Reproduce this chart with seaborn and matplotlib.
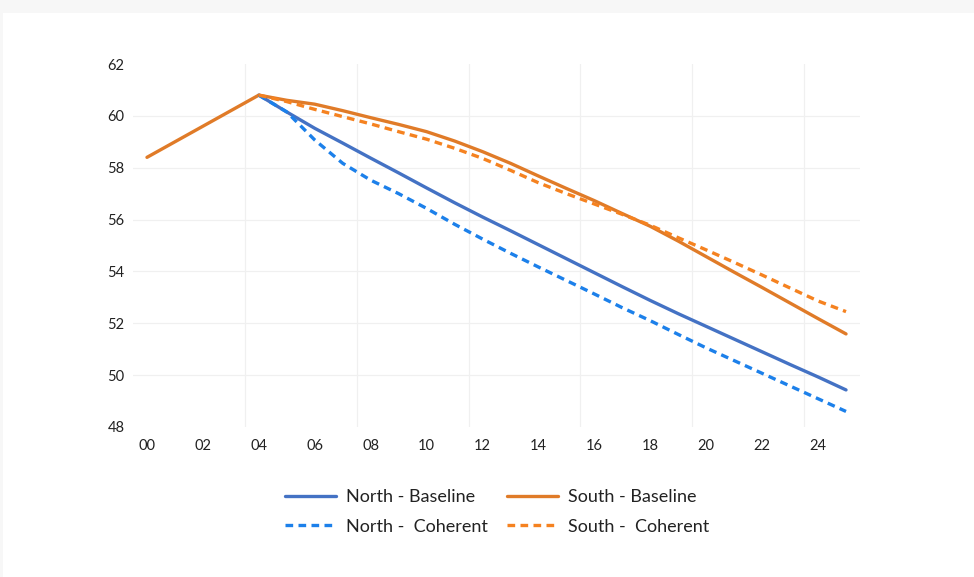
import matplotlib
matplotlib.use("Agg")
import matplotlib.pyplot as plt
from matplotlib.patches import Rectangle
from matplotlib.lines import Line2D
import seaborn as sns
import pandas as pd
import numpy as np

# ---- data ----
years_south_base = list(range(2000, 2026))
south_baseline = [58.4, 59.0, 59.6, 60.2, 60.8, 60.6, 60.45, 60.2, 59.93, 59.67,
                  59.39, 59.03, 58.62, 58.17, 57.68, 57.2, 56.73, 56.23, 55.74, 55.17,
                  54.57, 53.97, 53.38, 52.78, 52.18, 51.59]
years_proj = list(range(2004, 2026))
north_baseline = [60.8, 60.15, 59.52, 58.95, 58.37, 57.8, 57.22, 56.65, 56.1, 55.57,
                  55.03, 54.49, 53.95, 53.41, 52.88, 52.37, 51.88, 51.39, 50.9, 50.41,
                  49.93, 49.43]
north_coherent = [60.8, 60.15, 59.07, 58.17, 57.52, 57.0, 56.43, 55.82, 55.25, 54.7,
                  54.17, 53.65, 53.13, 52.6, 52.1, 51.57, 51.05, 50.56, 50.07, 49.58,
                  49.09, 48.6]
south_coherent = [60.8, 60.55, 60.25, 59.97, 59.69, 59.39, 59.1, 58.75, 58.36, 57.9,
                  57.42, 57.0, 56.6, 56.2, 55.78, 55.3, 54.83, 54.35, 53.86, 53.36,
                  52.86, 52.45]
xtick_years = list(range(2000, 2025, 2))
xtick_labels = ["00", "02", "04", "06", "08", "10", "12", "14", "16", "18", "20", "22", "24"]
yticks = [48, 50, 52, 54, 56, 58, 60, 62]

labels = ["North - Baseline", "South - Baseline", "North -  Coherent", "South -  Coherent"]
colors = {"North - Baseline": "#4472C4", "South - Baseline": "#E07B28",
          "North -  Coherent": "#1C80EA", "South -  Coherent": "#F58220"}

df = pd.concat([
    pd.DataFrame({"year": years_proj, "value": north_baseline, "series": labels[0]}),
    pd.DataFrame({"year": years_south_base, "value": south_baseline, "series": labels[1]}),
    pd.DataFrame({"year": years_proj, "value": north_coherent, "series": labels[2]}),
    pd.DataFrame({"year": years_proj, "value": south_coherent, "series": labels[3]}),
])
df["x"] = df["year"] - 2000

sns.set_theme(style="white")
plt.rcParams["font.family"] = ["Lato", "DejaVu Sans"]

fig = plt.figure(figsize=(9.74, 5.77), dpi=100)
fig.patch.set_facecolor("#F7F7F7")
fig.patches.append(Rectangle((3 / 974, 0), 1, (577 - 13) / 577, transform=fig.transFigure,
                             facecolor="white", edgecolor="none", zorder=-5))
ax = fig.add_axes([133 / 974, 1 - 427 / 577, (860 - 133) / 974, (427 - 64) / 577])
ax.set_zorder(1)
ax.set_facecolor("none")

dash = (2.3, 1.6)
sns.lineplot(data=df, x="x", y="value", hue="series", style="series",
             hue_order=labels, style_order=labels, palette=colors,
             dashes={labels[0]: "", labels[1]: "", labels[2]: dash, labels[3]: dash},
             linewidth=2.4, ax=ax, legend=False, estimator=None, sort=True)

ax.set_xlim(-0.5, 25.5)
ax.set_ylim(48, 62)
ax.set_xticks([y - 2000 for y in xtick_years])
ax.set_xticklabels(xtick_labels)
ax.set_yticks(yticks)
ax.tick_params(axis="both", length=0, labelsize=10.5, colors="#222222")
ax.tick_params(axis="x", pad=9)
ax.tick_params(axis="y", pad=6)
ax.set_xlabel("")
ax.set_ylabel("")
for s in ax.spines.values():
    s.set_visible(False)

for v in [50, 52, 54, 56, 58, 60]:
    ax.axhline(v, color="#F0F0F0", lw=0.9, zorder=0)
for v in np.arange(3.5, 25, 4):
    ax.axvline(v, color="#F0F0F0", lw=0.9, zorder=0)

handles = [
    Line2D([], [], color=colors[labels[0]], lw=2.4),
    Line2D([], [], color=colors[labels[2]], lw=2.4, dashes=dash),
    Line2D([], [], color=colors[labels[1]], lw=2.4),
    Line2D([], [], color=colors[labels[3]], lw=2.4, dashes=dash),
]
leg_labels = [labels[0], labels[2], labels[1], labels[3]]
fig.legend(handles, leg_labels, ncol=2, loc="center", bbox_to_anchor=(497 / 974, 1 - 512 / 577),
           frameon=False, fontsize=13, handlelength=2.8, handletextpad=0.55,
           columnspacing=1.1, labelspacing=0.75, labelcolor="#222222")

fig.savefig("out.png", dpi=100)
